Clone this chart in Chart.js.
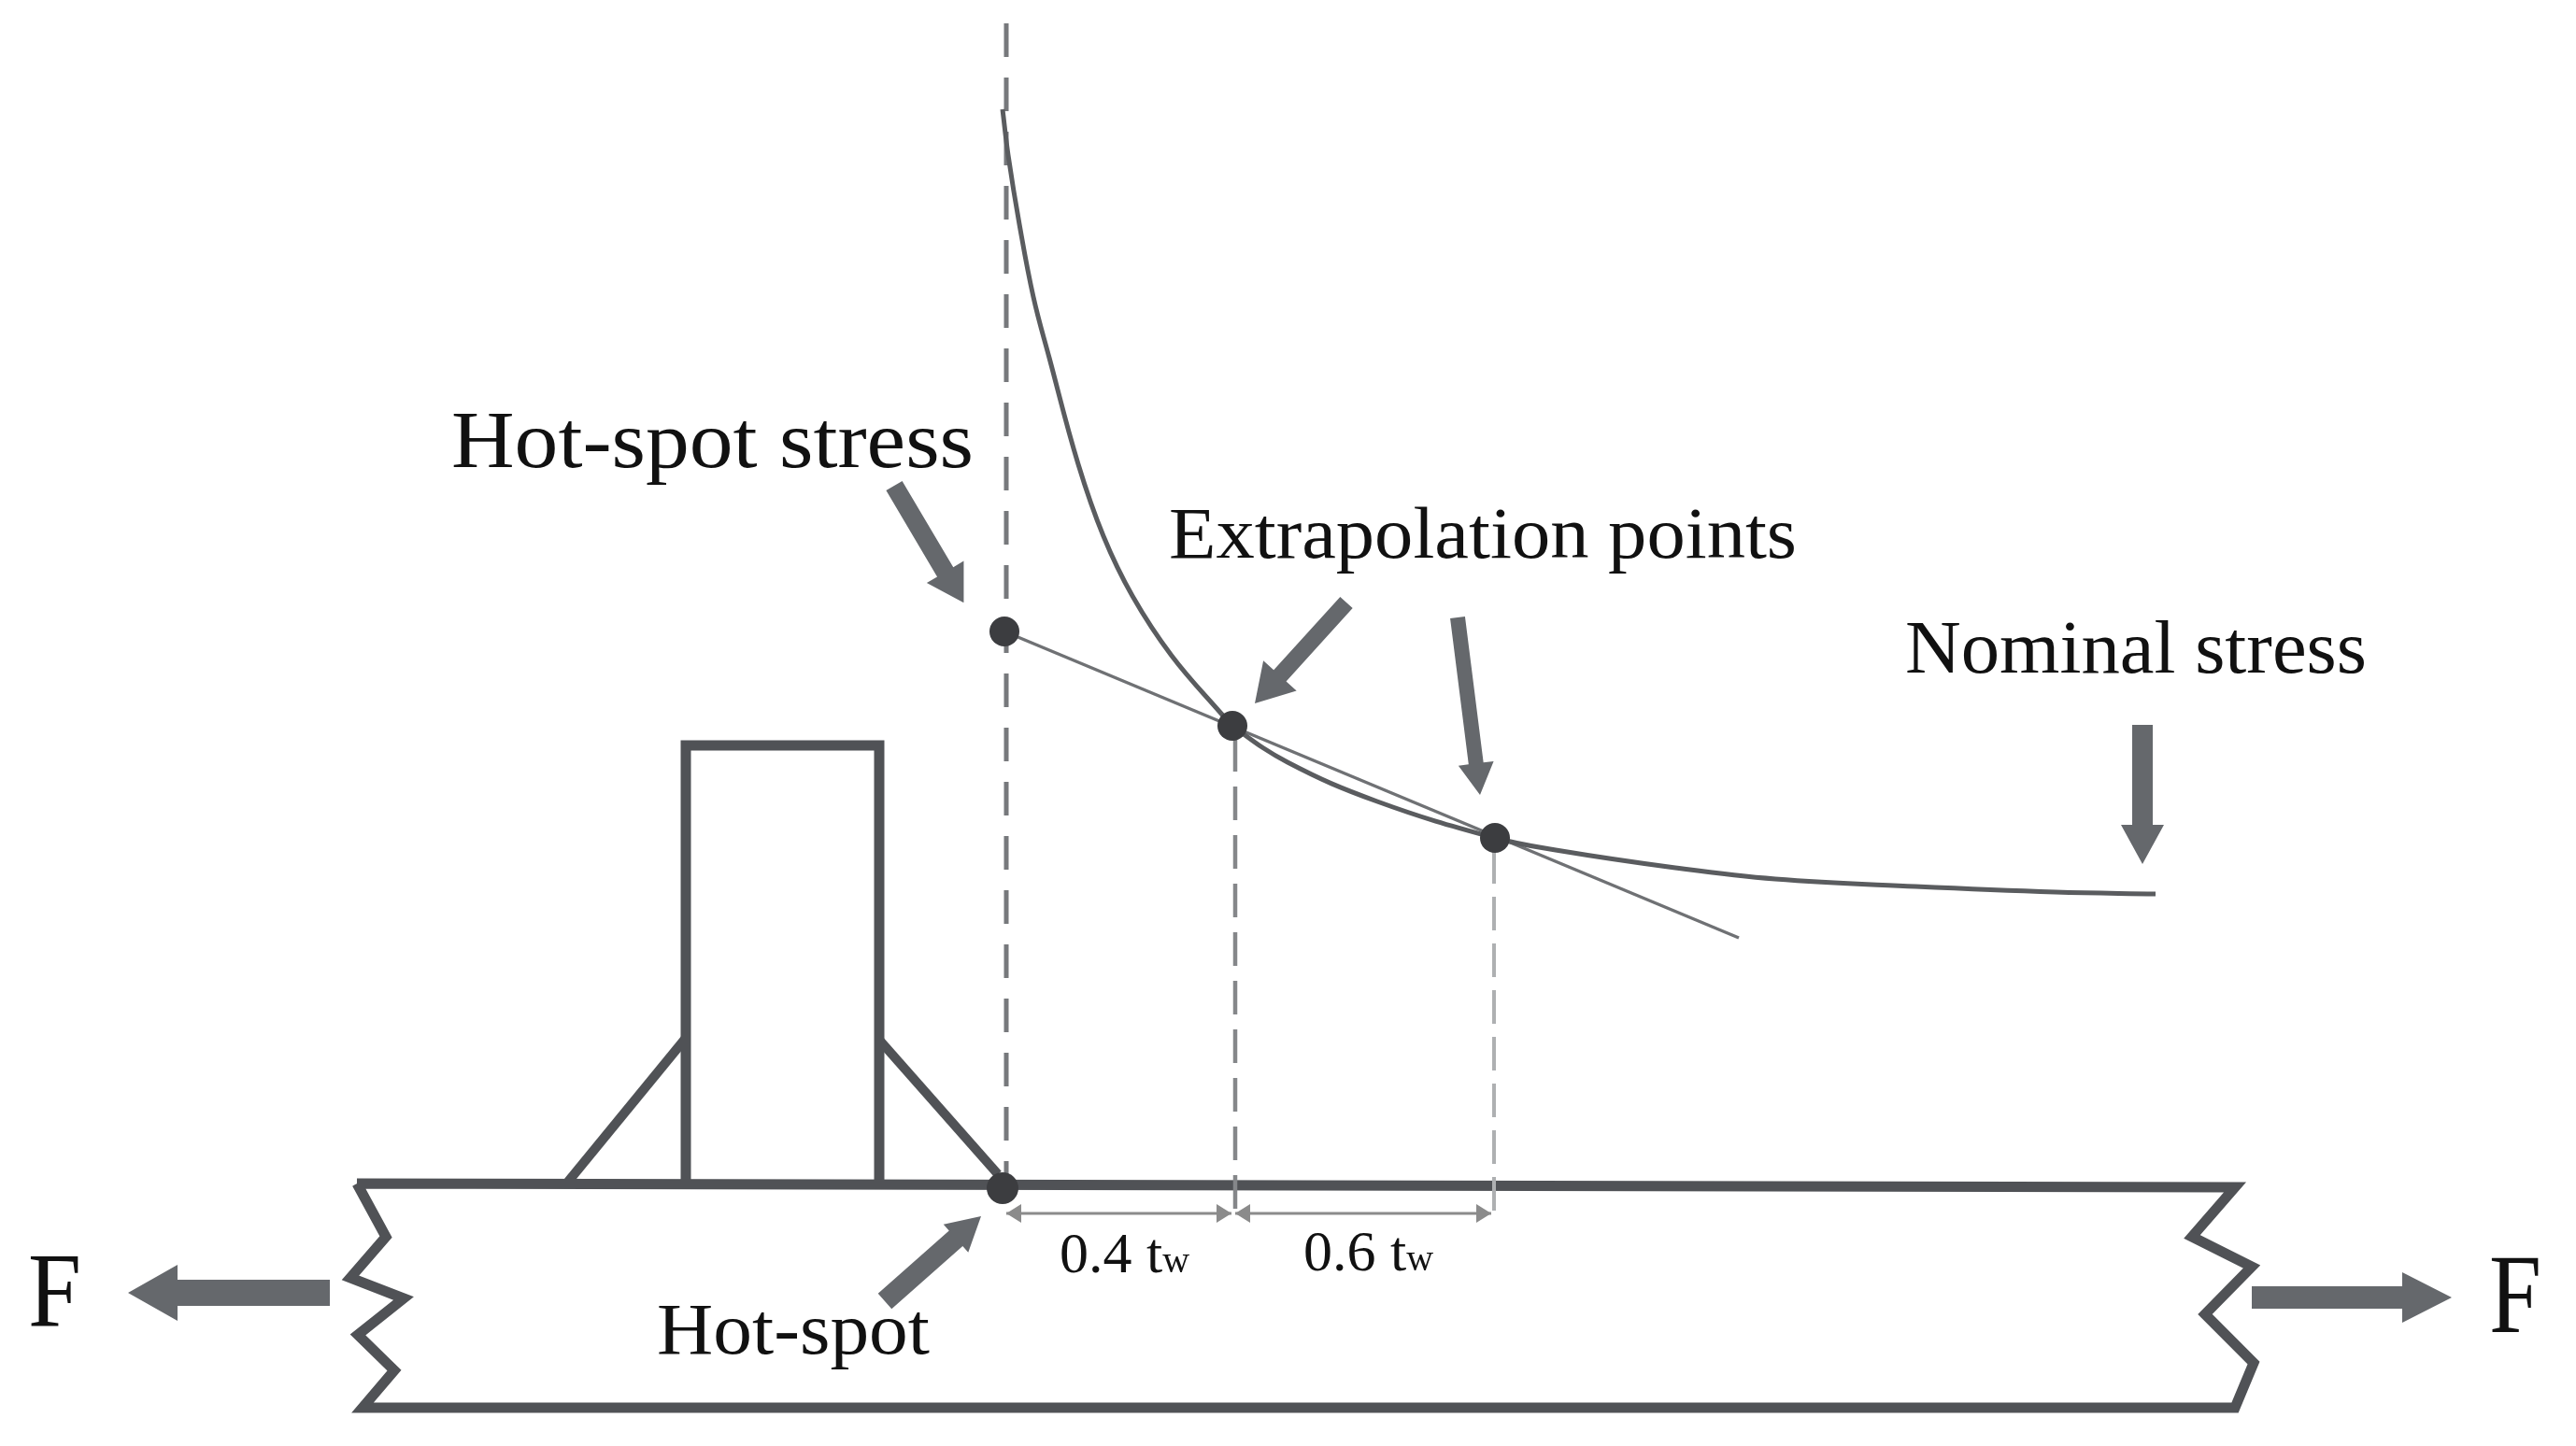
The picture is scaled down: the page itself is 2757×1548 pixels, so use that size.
<!DOCTYPE html>
<html><head><meta charset="utf-8">
<style>html,body{margin:0;padding:0;background:#fff}canvas{display:block}</style>
<script src="https://cdn.jsdelivr.net/npm/chart.js@4/dist/chart.umd.js"></script>
</head><body>
<div style="width:2757px;height:1548px"><canvas id="c" width="2757" height="1548"></canvas></div>
<script>
// Values (x = distance along plate, y = downward height in picture units)
const stressCurveX = [1073,1079,1091,1106,1123,1154,1181,1212,1254,1308,1319,1378,1474,1600,1665,1793,1900,2050,2200,2307];
const stressCurveY = [117,166,240,318,383,497,574,638,702,765,777,816,858,897,910,929,941,949,955,957];
const extrapLineX = [1075,1861];
const extrapLineY = [676,1004];
const pointsX = [1075,1319,1600];
const pointsY = [676,777,897];
const hotSpotX = [1073];
const hotSpotY = [1272];
const dash1X = [1077,1077]; const dash1Y = [25,1262];
const dash2X = [1322,1322]; const dash2Y = [790,1310];
const dash3X = [1599,1599]; const dash3Y = [910,1310];
const plateX = [382,413,375,432,383,422,388,2392,2412,2360,2410,2346,2392,382];
const plateY = [1267,1324,1368,1390,1429,1467,1507,1507,1459,1407,1356,1324,1271,1267];
const standX = [734,734,941,941];
const standY = [1267,798,798,1267];
const weldLeftX = [608,735]; const weldLeftY = [1265,1110];
const weldRightX = [940,1068]; const weldRightY = [1112,1257];
const arrowTailX = [957,1441,1560,2293,353,2410,947];
const arrowTailY = [520,645,661,776,1384,1389,1393];
const arrowTipX  = [1031,1343,1584,2293,137,2624,1050];
const arrowTipY  = [645,753,851,925,1384,1389,1302];
const dimY = [1299,1299];
const dimSpan1X = [1077,1318]; const dimSpan2X = [1322,1596];
const labels = ["Hot-spot stress","Extrapolation points","Nominal stress","Hot-spot","F","F"];
const labelX = [483,1251,2039,703,30,2664];
const labelY = [500,597,720,1449,1420,1426];
const labelW = [559,672,494,292,57,56];
const labelSize = [86,78,80,78,114,120];
const dimLabels = ["0.4 t","0.6 t"];
const dimLabelX = [1134,1395];
const dimLabelY = [1362,1360];
const dimSub = "w";

const INK='#505256', ARROW='#65686c';
const zip=(xs,ys)=>xs.map((x,i)=>({x,y:ys[i]}));
function arrowPoly(tx,ty,hx,hy,len,half,shaft){
  const L=Math.hypot(hx-tx,hy-ty),ux=(hx-tx)/L,uy=(hy-ty)/L,nx=-uy,ny=ux,bx=hx-ux*len,by=hy-uy*len;
  return [{x:tx+nx*shaft,y:ty+ny*shaft},{x:bx+nx*shaft,y:by+ny*shaft},{x:bx+nx*half,y:by+ny*half},{x:hx,y:hy},
          {x:bx-nx*half,y:by-ny*half},{x:bx-nx*shaft,y:by-ny*shaft},{x:tx-nx*shaft,y:ty-ny*shaft},{x:tx+nx*shaft,y:ty+ny*shaft}];
}
const line=(data,color,w,extra={})=>({data,showLine:true,borderColor:color,borderWidth:w,pointRadius:0,fill:false,tension:0,...extra});
const heads=[[38,23,10],[40,24,9],[34,19,8],[42,23,11],[53,30,14],[53,27,12],[36,20,11]];
const arrows=arrowTailX.map((_,i)=>{const h=heads[i];
  return {data:arrowPoly(arrowTailX[i],arrowTailY[i],arrowTipX[i],arrowTipY[i],h[0],h[1],h[2]),showLine:true,borderWidth:0,borderColor:'transparent',backgroundColor:ARROW,pointRadius:0,fill:'shape',tension:0};});
const dimArrow=(x0,x1)=>[
  line(zip([x0,x1],dimY),'#8b8b8b',3),
  {data:arrowPoly(x0+22,dimY[0],x0,dimY[0],16,10,0.5),showLine:true,borderWidth:0,backgroundColor:'#8b8b8b',pointRadius:0,fill:'shape'},
  {data:arrowPoly(x1-22,dimY[0],x1,dimY[0],16,10,0.5),showLine:true,borderWidth:0,backgroundColor:'#8b8b8b',pointRadius:0,fill:'shape'}];
const datasets=[
  {data:zip(pointsX,pointsY),pointRadius:16,pointBackgroundColor:'#3c3d40',pointBorderWidth:0,showLine:false},
  {data:zip(hotSpotX,hotSpotY),pointRadius:17,pointBackgroundColor:'#3c3d40',pointBorderWidth:0,showLine:false},
  line(zip(stressCurveX,stressCurveY),'#5a5c5f',5,{tension:0.4}),
  line(zip(extrapLineX,extrapLineY),'#6f7174',3.5),
  line(zip(dash1X,dash1Y),'#77797c',5,{borderDash:[36,22]}),
  line(zip(dash2X,dash2Y),'#85878a',4.5,{borderDash:[36,16]}),
  line(zip(dash3X,dash3Y),'#aeb0b2',4,{borderDash:[36,14]}),
  line(zip(plateX,plateY),INK,11,{borderJoinStyle:'miter'}),
  line(zip(standX,standY),INK,11,{borderJoinStyle:'miter'}),
  line(zip(weldLeftX,weldLeftY),INK,10),
  line(zip(weldRightX,weldRightY),INK,10),
  ...arrows.slice(0,6),
  ...dimArrow(dimSpan1X[0],dimSpan1X[1]),
  ...dimArrow(dimSpan2X[0],dimSpan2X[1]),
  arrows[6]
];
const textPlugin={id:'texts',afterDatasetsDraw(chart){
  const {ctx,scales:{x,y}}=chart;
  ctx.save();ctx.fillStyle='#111';ctx.textBaseline='alphabetic';ctx.textAlign='left';
  labels.forEach((t,i)=>{
    ctx.font=labelSize[i]+'px "Liberation Serif"';
    const sx=labelW[i]/ctx.measureText(t).width,px=x.getPixelForValue(labelX[i]),py=y.getPixelForValue(labelY[i]);
    ctx.save();ctx.translate(px,py);ctx.scale(sx,1);ctx.fillText(t,0,0);ctx.restore();
  });
  dimLabels.forEach((t,i)=>{
    const px=x.getPixelForValue(dimLabelX[i]),py=y.getPixelForValue(dimLabelY[i]);
    ctx.font='62px "Liberation Serif"';
    const w=ctx.measureText(t).width;
    ctx.fillText(t,px,py);
    ctx.font='40px "Liberation Serif"';
    ctx.fillText(dimSub,px+w,py);
  });
  ctx.restore();
}};
new Chart(document.getElementById('c'),{type:'scatter',data:{datasets},plugins:[textPlugin],options:{
  responsive:false,animation:false,devicePixelRatio:1,
  layout:{padding:0,autoPadding:false},
  plugins:{legend:{display:false},title:{display:false},tooltip:{enabled:false}},
  scales:{x:{type:'linear',min:0,max:2757,display:false},y:{type:'linear',min:0,max:1548,reverse:true,display:false}}
}});
</script>
</body></html>
